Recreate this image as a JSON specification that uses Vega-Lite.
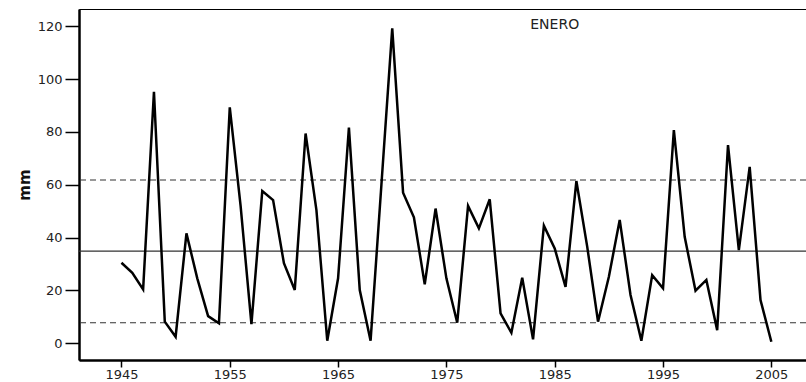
{
  "$schema": "https://vega.github.io/schema/vega-lite/v6.json",
  "width": 727,
  "height": 351,
  "autosize": {"type": "none"},
  "padding": {"left": 79, "top": 9, "right": 0, "bottom": 22},
  "background": "white",
  "config": {
    "view": {"stroke": "black", "strokeWidth": 1},
    "axis": {"grid": false, "labelFont": "DejaVu Sans", "labelColor": "#222", "labelFontSize": 13, "tickColor": "black", "domainColor": "black", "domainWidth": 2.5, "tickWidth": 1.5}
  },
  "datasets": {
    "series": [
      {"year": 1945, "mm": 30.5}, {"year": 1946, "mm": 26.7}, {"year": 1947, "mm": 20.4}, {"year": 1948, "mm": 95.2},
      {"year": 1949, "mm": 8.2}, {"year": 1950, "mm": 2.5}, {"year": 1951, "mm": 41.6}, {"year": 1952, "mm": 24.6},
      {"year": 1953, "mm": 10.3}, {"year": 1954, "mm": 7.6}, {"year": 1955, "mm": 89.3}, {"year": 1956, "mm": 52},
      {"year": 1957, "mm": 7.3}, {"year": 1958, "mm": 57.6}, {"year": 1959, "mm": 54.2}, {"year": 1960, "mm": 30.3},
      {"year": 1961, "mm": 20.2}, {"year": 1962, "mm": 79.4}, {"year": 1963, "mm": 50.4}, {"year": 1964, "mm": 1.0},
      {"year": 1965, "mm": 24.6}, {"year": 1966, "mm": 81.6}, {"year": 1967, "mm": 20.2}, {"year": 1968, "mm": 1.0},
      {"year": 1969, "mm": 60}, {"year": 1970, "mm": 119.2}, {"year": 1971, "mm": 57}, {"year": 1972, "mm": 47.7},
      {"year": 1973, "mm": 22.3}, {"year": 1974, "mm": 51}, {"year": 1975, "mm": 24.6}, {"year": 1976, "mm": 7.8},
      {"year": 1977, "mm": 52}, {"year": 1978, "mm": 43.5}, {"year": 1979, "mm": 54.5}, {"year": 1980, "mm": 11.3},
      {"year": 1981, "mm": 4.0}, {"year": 1982, "mm": 24.8}, {"year": 1983, "mm": 1.5}, {"year": 1984, "mm": 44.5},
      {"year": 1985, "mm": 35.9}, {"year": 1986, "mm": 21.4}, {"year": 1987, "mm": 61.4}, {"year": 1988, "mm": 36.6},
      {"year": 1989, "mm": 8.2}, {"year": 1990, "mm": 25.2}, {"year": 1991, "mm": 46.7}, {"year": 1992, "mm": 18.3},
      {"year": 1993, "mm": 1.0}, {"year": 1994, "mm": 25.8}, {"year": 1995, "mm": 20.8}, {"year": 1996, "mm": 80.7},
      {"year": 1997, "mm": 40.3}, {"year": 1998, "mm": 19.9}, {"year": 1999, "mm": 24.0}, {"year": 2000, "mm": 5.0},
      {"year": 2001, "mm": 75.0}, {"year": 2002, "mm": 35.3}, {"year": 2003, "mm": 66.8}, {"year": 2004, "mm": 16.4},
      {"year": 2005, "mm": 0.6}
    ],
    "refs": [
      {"level": 34.9, "kind": "mean"},
      {"level": 61.8, "kind": "limit"},
      {"level": 7.8, "kind": "limit"}
    ],
    "label": [{"year": 1985, "mm": 120.4, "text": "ENERO"}]
  },
  "layer": [
    {
      "data": {"name": "refs"},
      "mark": {"type": "rule", "color": "#333", "strokeWidth": 1.2},
      "encoding": {
        "y": {"field": "level", "type": "quantitative", "scale": {"domain": [-6.3, 126.5], "nice": false, "zero": false}},
        "strokeDash": {"field": "kind", "type": "nominal", "scale": {"domain": ["mean", "limit"], "range": [[1, 0], [6, 4]]}, "legend": null}
      }
    },
    {
      "data": {"name": "series"},
      "mark": {"type": "line", "color": "black", "strokeWidth": 2.5, "strokeJoin": "miter"},
      "encoding": {
        "x": {
          "field": "year", "type": "quantitative",
          "scale": {"domain": [1941.08, 2008.2], "nice": false, "zero": false},
          "axis": {"values": [1945, 1955, 1965, 1975, 1985, 1995, 2005], "format": "d", "title": null, "tickSize": 7, "labelPadding": 1}
        },
        "y": {
          "field": "mm", "type": "quantitative",
          "scale": {"domain": [-6.3, 126.5], "nice": false, "zero": false},
          "axis": {"values": [0, 20, 40, 60, 80, 100, 120], "title": "mm", "titleFont": "DejaVu Sans", "titleFontSize": 15, "titleFontWeight": "bold", "titleColor": "#111", "tickSize": 14, "labelPadding": 3, "titlePadding": 5}
        }
      }
    },
    {
      "data": {"name": "label"},
      "mark": {"type": "text", "font": "DejaVu Sans", "fontSize": 14, "color": "#222", "align": "center", "baseline": "middle"},
      "encoding": {
        "x": {"field": "year", "type": "quantitative"},
        "y": {"field": "mm", "type": "quantitative"},
        "text": {"field": "text"}
      }
    }
  ]
}
